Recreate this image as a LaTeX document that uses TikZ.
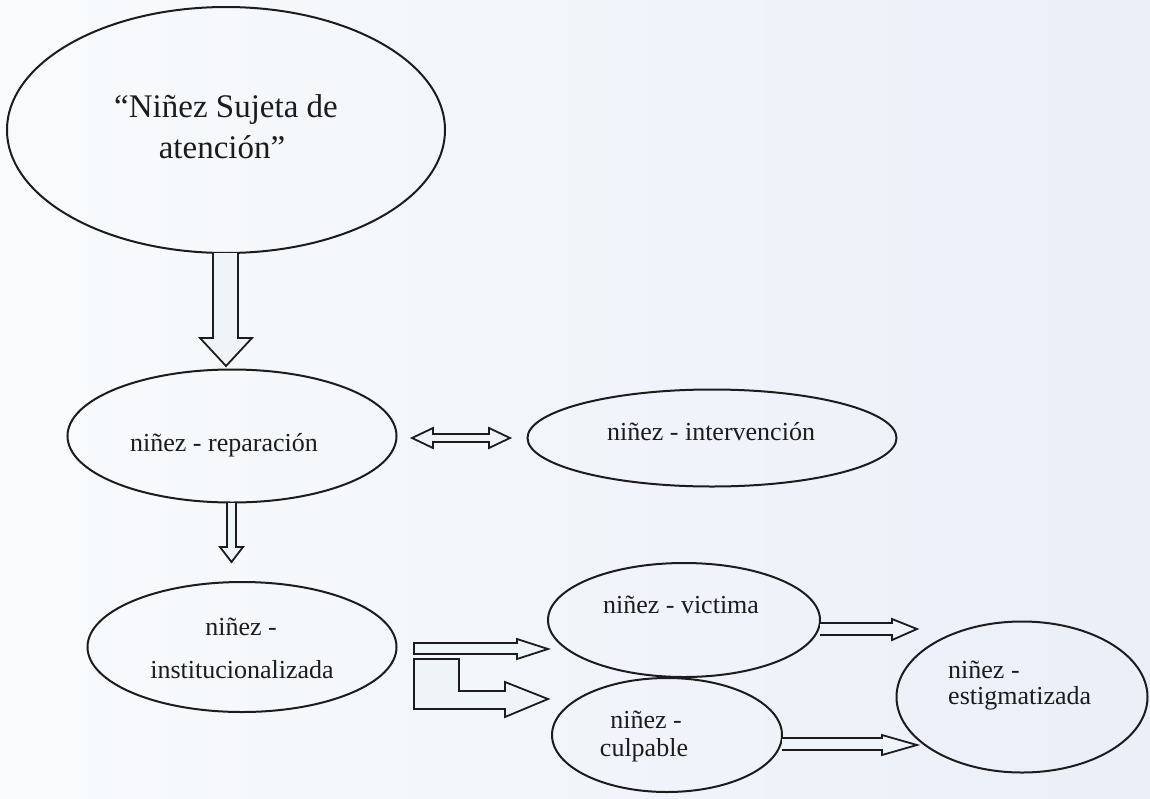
\documentclass[tikz,border=0pt]{standalone}
\usepackage{fontspec}
\setmainfont{Liberation Serif}
\usetikzlibrary{shapes.geometric}
\definecolor{paper}{RGB}{239,244,248}
\definecolor{ink}{RGB}{28,28,28}
\tikzset{
  oval/.style={ellipse, draw=ink, line width=2pt, inner sep=0pt},
  lbl/.style={text=ink, font=\fontsize{26}{30}\selectfont, inner sep=0pt, align=center},
  bigl/.style={lbl, font=\fontsize{33}{38}\selectfont},
  blockarrow/.style={draw=ink, line width=1.8pt, line join=miter, fill=paper}
}
\begin{document}
\begin{tikzpicture}[x=1pt,y=-1pt]
  % page
  \fill[left color=white!60!paper, right color=paper!90!blue!20!paper] (0,0) rectangle (1150,798);
  \useasboundingbox (0,0) rectangle (1150,798);

  % ovals
  \node[oval, minimum width=438, minimum height=246] (suj) at (226,130) {};
  \node[oval, minimum width=329, minimum height=133] (rep) at (232,436) {};
  \node[oval, minimum width=369, minimum height=97]  (int) at (712,438) {};
  \node[oval, minimum width=309, minimum height=130] (ins) at (242,647) {};
  \node[oval, minimum width=272, minimum height=114] (vic) at (684,620) {};
  \node[oval, minimum width=230, minimum height=114] (cul) at (667,735) {};
  \node[oval, minimum width=251, minimum height=151] (est) at (1022,697) {};

  % texts
  \node[bigl] (tsuj1) at (226,110) {“Niñez Sujeta de};
  \node[bigl] (tsuj2) at (222,147) {atención”};
  \node[lbl] (trep) at (224,445) {niñez - reparación};
  \node[lbl] (tint) at (711,432) {niñez - intervención};
  \node[lbl] (tins1) at (241,627) {niñez -};
  \node[lbl] (tins2) at (242,670) {institucionalizada};
  \node[lbl] (tvic) at (681,605) {niñez - victima};
  \node[lbl] (tcul1) at (646,720) {niñez -};
  \node[lbl] (tcul2) at (644,750) {culpable};
  \node[lbl, anchor=west] (test1) at (948,670) {niñez -};
  \node[lbl, anchor=west] (test2) at (948,698) {estigmatizada};

  % block arrows
  % suj -> rep
  \draw[blockarrow] (213,253) -- (213,338) -- (200,338) -- (226,366) -- (252,338)
        -- (238,338) -- (238,253);
  % rep <-> int
  \draw[blockarrow] (412,438) -- (433,428) -- (433,434) -- (489,434) -- (489,428)
        -- (510,438) -- (489,448) -- (489,442) -- (433,442) -- (433,448) -- cycle;
  % rep -> ins
  \draw[blockarrow] (227,503) -- (227,547) -- (220,547) -- (231.5,562) -- (243,547)
        -- (236,547) -- (236,503);
  % ins -> vic
  \draw[blockarrow] (414,643) -- (517,643) -- (517,639) -- (548,649) -- (517,659)
        -- (517,654) -- (414,654) -- cycle;
  % ins -> cul
  \draw[blockarrow] (414,659) -- (459,659) -- (459,691) -- (505,691) -- (505,682)
        -- (548,699) -- (505,717) -- (505,709) -- (414,709) -- cycle;
  % vic -> est
  \draw[blockarrow] (820,623) -- (892,623) -- (892,619) -- (917,629) -- (892,640)
        -- (892,635) -- (820,635);
  % cul -> est
  \draw[blockarrow] (782,738) -- (882,738) -- (882,735) -- (917,745) -- (882,755)
        -- (882,750) -- (782,750);
\end{tikzpicture}
\end{document}
